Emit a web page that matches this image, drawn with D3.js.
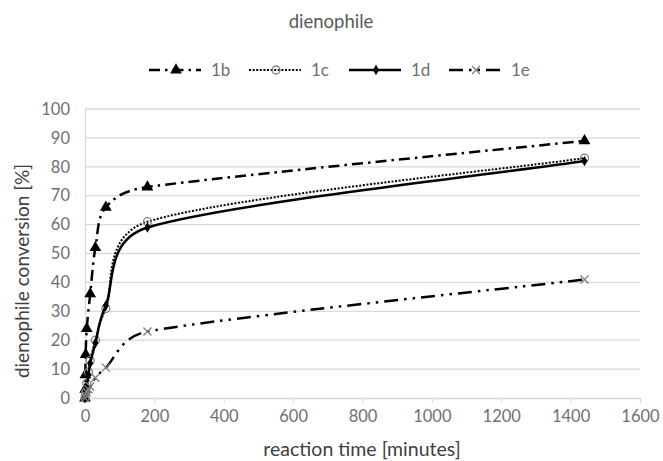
<!DOCTYPE html>
<html>
<head>
<meta charset="utf-8">
<script src="https://cdn.jsdelivr.net/npm/d3@7"></script>
<style>
  body { margin: 0; background: #fff; }
  text { font-family: Lato, "Open Sans", sans-serif; }
</style>
</head>
<body>
<div id="chart"></div>
<script>
var width = 663,
    height = 461;
var margin = {top: 109, right: 23, bottom: 63, left: 85};

// reaction time [minutes] and conversion [%]
var times1b = [0, 0.5, 1, 2, 5, 15, 30, 60, 180, 1440];
var conv1b  = [0, 3, 8, 15, 24, 36, 52, 66, 73, 89];
var times1c = [0, 2, 5, 10, 15, 30, 60, 180, 1440];
var conv1c  = [0, 2, 5, 9, 13, 20, 31, 61, 83];
var times1d = [0, 2, 5, 10, 15, 30, 60, 180, 1440];
var conv1d  = [0, 2, 4, 8, 12, 19, 32, 59, 82];
var times1e = [0, 2, 5, 10, 15, 30, 60, 180, 1440];
var conv1e  = [0, 1, 2, 3, 4, 7, 10.5, 23, 41];
var xTicks = [0, 200, 400, 600, 800, 1000, 1200, 1400, 1600];
var yTicks = [0, 10, 20, 30, 40, 50, 60, 70, 80, 90, 100];
var names = ["1b", "1c", "1d", "1e"];

var series = [
  {name: "1b", t: times1b, v: conv1b, dash: "11,5,2.5,5", w: 2.5, marker: "triangle"},
  {name: "1c", t: times1c, v: conv1c, dash: "2,1.6", w: 2, marker: "circle"},
  {name: "1d", t: times1d, v: conv1d, dash: null, w: 2.5, marker: "diamond"},
  {name: "1e", t: times1e, v: conv1e, dash: "14,6,2.5,6,2.5,6", w: 2.5, marker: "cross"}
];

// spreadsheet style smoothing: bezier with tension 1/6, clamped on short segments
function SmoothCurve(context) { this._context = context; }
SmoothCurve.prototype = {
  areaStart: function() {},
  areaEnd: function() {},
  lineStart: function() { this._pts = []; },
  point: function(px, py) { this._pts.push([+px, +py]); },
  lineEnd: function() {
    var p = this._pts, c = this._context, n = p.length;
    if (!n) return;
    c.moveTo(p[0][0], p[0][1]);
    function dist(a, b) { return Math.hypot(b[0] - a[0], b[1] - a[1]); }
    for (var i = 0; i < n - 1; i++) {
      var p0 = p[Math.max(i - 1, 0)], p1 = p[i], p2 = p[i + 1], p3 = p[Math.min(i + 2, n - 1)];
      var d12 = dist(p1, p2), d02 = dist(p0, p2), d13 = dist(p1, p3);
      var f1 = d02 > 0 ? Math.min(1 / 6, d12 / (2 * d02)) : 0;
      var f2 = d13 > 0 ? Math.min(1 / 6, d12 / (2 * d13)) : 0;
      c.bezierCurveTo(
        p1[0] + f1 * (p2[0] - p0[0]), p1[1] + f1 * (p2[1] - p0[1]),
        p2[0] - f2 * (p3[0] - p1[0]), p2[1] - f2 * (p3[1] - p1[1]),
        p2[0], p2[1]);
    }
  }
};
function smoothCurve(context) { return new SmoothCurve(context); }

var svg = d3.select("#chart")
    .append("svg")
    .attr("width", width)
    .attr("height", height);

var x = d3.scaleLinear().domain([0, 1600]).range([margin.left, width - margin.right]);
var y = d3.scaleLinear().domain([0, 100]).range([height - margin.bottom, margin.top]);

// gridlines
svg.append("g")
  .selectAll("line")
  .data(yTicks.slice(1))
  .enter().append("line")
  .attr("x1", x(0)).attr("x2", x(1600))
  .attr("y1", function(d) { return y(d); })
  .attr("y2", function(d) { return y(d); })
  .attr("stroke", "#d9d9d9")
  .attr("stroke-width", 1.3);

// axes
var xAxis = svg.append("g")
  .attr("transform", "translate(0," + y(0) + ")")
  .call(d3.axisBottom(x).tickValues(xTicks).tickFormat(d3.format("d")).tickSize(5).tickPadding(7));
var yAxis = svg.append("g")
  .attr("transform", "translate(" + x(0) + ",0)")
  .call(d3.axisLeft(y).tickValues(yTicks).tickSize(0).tickPadding(15));
[xAxis, yAxis].forEach(function(a) {
  a.select(".domain").attr("stroke", "#d9d9d9").attr("stroke-width", 1.3);
  a.selectAll(".tick line").attr("stroke", "#d9d9d9");
  a.selectAll(".tick text")
    .attr("fill", "#707070")
    .style("font-size", "16.5px");
});

var line = d3.line()
  .x(function(d) { return x(d[0]); })
  .y(function(d) { return y(d[1]); })
  .curve(smoothCurve);

var sym = {
  triangle: d3.symbol().type(d3.symbolTriangle).size(60),
  diamond: d3.symbol().type(d3.symbolDiamond).size(32),
  circle: d3.symbol().type(d3.symbolCircle).size(50)
};

function drawMarker(g, type) {
  if (type === "cross") {
    g.append("path")
      .attr("d", "M-4,-4L4,4M-4,4L4,-4")
      .attr("fill", "none")
      .attr("stroke", "#7f7f7f")
      .attr("stroke-width", 1.3);
    return;
  }
  var p = g.append("path").attr("d", sym[type]());
  if (type === "circle") {
    p.attr("fill", "none").attr("stroke", "#7f7f7f").attr("stroke-width", 1.3);
  } else {
    p.attr("fill", "#000");
  }
}

var plot = svg.append("g");
series.forEach(function(s) {
  var pts = s.t.map(function(t, i) { return [t, s.v[i]]; });
  plot.append("path")
    .datum(pts)
    .attr("d", line)
    .attr("fill", "none")
    .attr("stroke", "#000")
    .attr("stroke-width", s.w)
    .attr("stroke-dasharray", s.dash);
  pts.forEach(function(p) {
    var g = plot.append("g").attr("transform", "translate(" + x(p[0]) + "," + y(p[1]) + ")");
    drawMarker(g, s.marker);
  });
});

// title
svg.append("text")
  .attr("x", 331).attr("y", 28)
  .attr("text-anchor", "middle")
  .attr("fill", "#595959")
  .style("font-size", "18.5px")
  .text("dienophile");

// legend
var legend = svg.append("g");
series.forEach(function(s, i) {
  var lx = 149 + i * 100, ly = 70;
  legend.append("line")
    .attr("x1", lx).attr("x2", lx + 52)
    .attr("y1", ly).attr("y2", ly)
    .attr("stroke", "#000")
    .attr("stroke-width", s.w)
    .attr("stroke-dasharray", s.dash);
  var g = legend.append("g").attr("transform", "translate(" + (lx + 27) + "," + ly + ")");
  drawMarker(g, s.marker);
  legend.append("text")
    .attr("x", lx + 62).attr("y", ly + 6)
    .attr("fill", "#707070")
    .style("font-size", "17px")
    .text(names[i]);
});

// axis titles
svg.append("text")
  .attr("x", 362).attr("y", 456)
  .attr("text-anchor", "middle")
  .attr("fill", "#404040")
  .style("font-size", "19.5px")
  .text("reaction time [minutes]");
svg.append("text")
  .attr("transform", "translate(29,271) rotate(-90)")
  .attr("text-anchor", "middle")
  .attr("fill", "#404040")
  .style("font-size", "19px")
  .text("dienophile conversion [%]");
</script>
</body>
</html>
